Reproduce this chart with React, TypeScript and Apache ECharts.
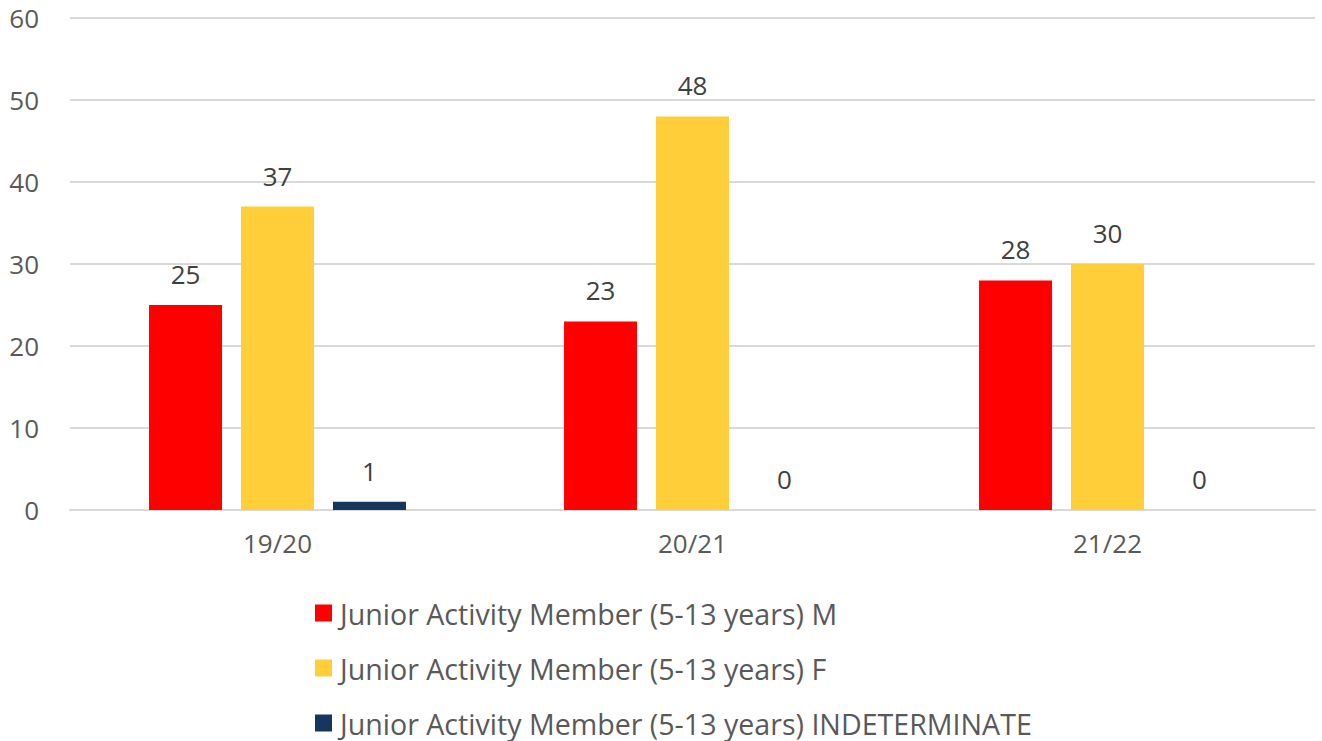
import React, { useEffect, useRef } from "react";
import * as echarts from "echarts";

const categories = ["19/20", "20/21", "21/22"];
const seriesNames = [
  "Junior Activity Member (5-13 years) M",
  "Junior Activity Member (5-13 years) F",
  "Junior Activity Member (5-13 years) INDETERMINATE",
];
const maleValues = [25, 23, 28];
const femaleValues = [37, 48, 30];
const indeterminateValues = [1, 0, 0];
const colors = ["#FF0000", "#FFCE38", "#17365D"];

const FONT = "'Open Sans', sans-serif";

export default function App() {
  const ref = useRef<HTMLDivElement>(null);
  useEffect(() => {
    if (!ref.current) return;
    const chart = echarts.init(ref.current, null, { renderer: "svg" });
    const dataSets = [maleValues, femaleValues, indeterminateValues];
    chart.setOption({
      animation: false,
      grid: { left: 70, right: 7, top: 18, bottom: 231, containLabel: false },
      xAxis: {
        type: "category",
        data: categories,
        axisLine: { show: true, lineStyle: { color: "#D9D9D9", width: 2 } },
        axisTick: { show: false },
        axisLabel: { color: "#595959", fontSize: 26, fontFamily: FONT, margin: 20 },
      },
      yAxis: {
        type: "value",
        min: 0,
        max: 60,
        interval: 10,
        axisLine: { show: false },
        axisTick: { show: false },
        splitLine: { lineStyle: { color: "#D9D9D9", width: 2 } },
        axisLabel: { color: "#595959", fontSize: 26, fontFamily: FONT, margin: 31 },
      },
      legend: {
        orient: "vertical",
        left: 315,
        top: 597,
        padding: 0,
        height: 144,
        itemWidth: 17,
        itemHeight: 17,
        itemGap: 23,
        icon: "rect",
        textStyle: { color: "#595959", fontSize: 28.6, fontFamily: FONT, lineHeight: 32, padding: [0, 0, 0, 3] },
        data: seriesNames,
      },
      series: dataSets.map((vals, i) => ({
        name: seriesNames[i],
        type: "bar",
        data: vals,
        barWidth: 73,
        barGap: "26%",
        itemStyle: { color: colors[i] },
        label: {
          show: true,
          position: "top",
          distance: 18,
          color: "#404040",
          fontSize: 26,
          fontFamily: FONT,
        },
      })),
    });
    return () => chart.dispose();
  }, []);
  return <div ref={ref} style={{ width: 1322, height: 741, position: "absolute", left: 0, top: 0 }} />;
}
